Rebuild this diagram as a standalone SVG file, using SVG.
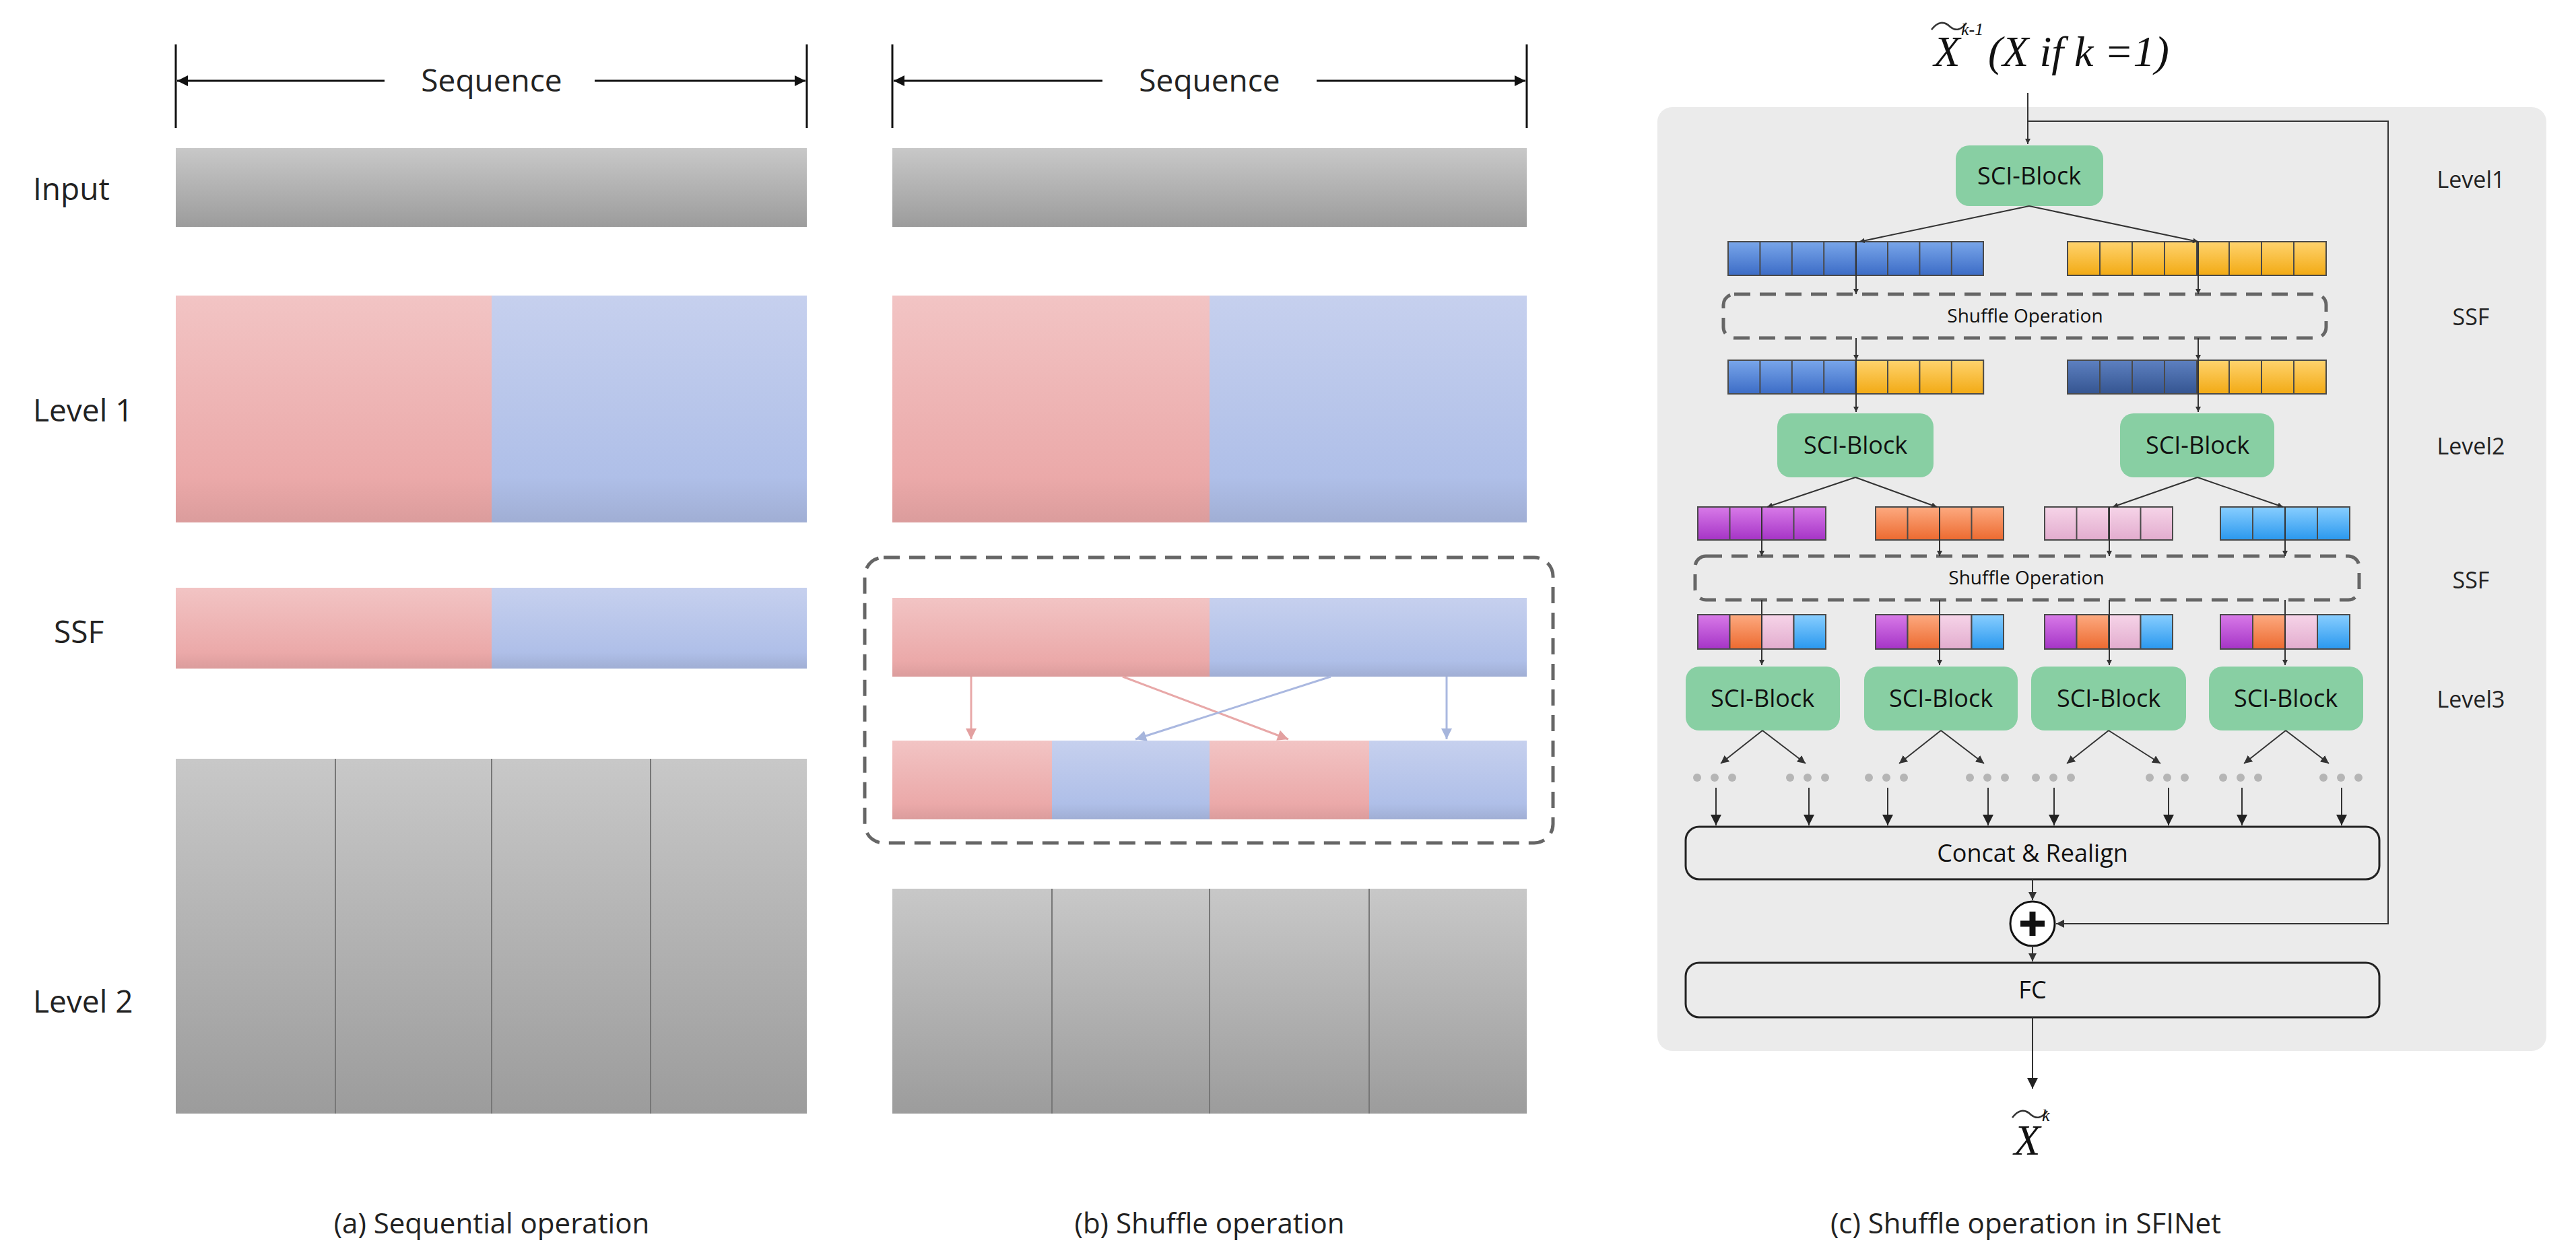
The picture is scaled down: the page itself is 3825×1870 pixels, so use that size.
<svg xmlns="http://www.w3.org/2000/svg" width="3825" height="1870" viewBox="0 0 3825 1870">
<defs>
<linearGradient id="gGray" x1="0" y1="0" x2="0" y2="1"><stop offset="0" stop-color="#c8c8c8"/><stop offset="1" stop-color="#9c9c9c"/></linearGradient>
<linearGradient id="gPink" x1="0" y1="0" x2="0" y2="1"><stop offset="0" stop-color="#f2c4c4"/><stop offset="0.8" stop-color="#eba9a9"/><stop offset="1" stop-color="#db9c9c"/></linearGradient>
<linearGradient id="gBlue" x1="0" y1="0" x2="0" y2="1"><stop offset="0" stop-color="#c6d0ee"/><stop offset="0.8" stop-color="#afbfe8"/><stop offset="1" stop-color="#a0aed4"/></linearGradient>
<linearGradient id="cBlue" x1="0" y1="0" x2="0" y2="1"><stop offset="0" stop-color="#79a6ea"/><stop offset="1" stop-color="#3c6cc6"/></linearGradient>
<linearGradient id="cDBlue" x1="0" y1="0" x2="0" y2="1"><stop offset="0" stop-color="#5d80c0"/><stop offset="1" stop-color="#355591"/></linearGradient>
<linearGradient id="cYel" x1="0" y1="0" x2="0" y2="1"><stop offset="0" stop-color="#ffd36e"/><stop offset="1" stop-color="#f2aa14"/></linearGradient>
<linearGradient id="cPur" x1="0" y1="0" x2="0" y2="1"><stop offset="0" stop-color="#d87ae8"/><stop offset="1" stop-color="#a534c6"/></linearGradient>
<linearGradient id="cOra" x1="0" y1="0" x2="0" y2="1"><stop offset="0" stop-color="#fdaa80"/><stop offset="1" stop-color="#ec6a30"/></linearGradient>
<linearGradient id="cPnk" x1="0" y1="0" x2="0" y2="1"><stop offset="0" stop-color="#f6d4e8"/><stop offset="1" stop-color="#e2acce"/></linearGradient>
<linearGradient id="cLB" x1="0" y1="0" x2="0" y2="1"><stop offset="0" stop-color="#88ceff"/><stop offset="1" stop-color="#2a98ee"/></linearGradient>
<marker id="ah" viewBox="0 0 10 10" refX="10" refY="5" markerWidth="8" markerHeight="8" orient="auto" markerUnits="userSpaceOnUse"><path d="M0,0 L10,5 L0,10 z" fill="#333"/></marker>
<marker id="ahs" viewBox="0 0 10 10" refX="10" refY="5" markerWidth="12" markerHeight="12" orient="auto" markerUnits="userSpaceOnUse"><path d="M0,0 L10,5 L0,10 z" fill="#333"/></marker>
<marker id="ahb" viewBox="0 0 10 10" refX="10" refY="5" markerWidth="18" markerHeight="16" orient="auto" markerUnits="userSpaceOnUse"><path d="M0,0 L10,5 L0,10 z" fill="#222"/></marker>
<marker id="ahP" viewBox="0 0 10 10" refX="10" refY="5" markerWidth="22" markerHeight="16" orient="auto" markerUnits="userSpaceOnUse"><path d="M0,0 L10,5 L0,10 z" fill="#e3a0a0"/></marker>
<marker id="ahB" viewBox="0 0 10 10" refX="10" refY="5" markerWidth="22" markerHeight="16" orient="auto" markerUnits="userSpaceOnUse"><path d="M0,0 L10,5 L0,10 z" fill="#a6b5dc"/></marker>
<marker id="seqA" viewBox="0 0 10 10" refX="10" refY="5" markerWidth="22" markerHeight="16" orient="auto" markerUnits="userSpaceOnUse"><path d="M0,0 L10,5 L0,10 z" fill="#111"/></marker>
</defs>
<style>
.lbl{font-family:"Open Sans","Noto Sans",sans-serif;font-size:46px;fill:#222;}
.cap{font-family:"Open Sans","Noto Sans",sans-serif;font-size:42px;fill:#222;text-anchor:middle;}
.lv{font-family:"Open Sans","Noto Sans",sans-serif;font-size:34px;fill:#222;text-anchor:middle;}
.sci{font-family:"Open Sans","Noto Sans",sans-serif;font-size:36px;fill:#111;text-anchor:middle;}
.sh{font-family:"Open Sans","Noto Sans",sans-serif;font-size:28px;fill:#111;text-anchor:middle;}
.mth{font-family:"Liberation Serif",serif;font-style:italic;fill:#111;}
.blk{fill:#88cfa3;}
.cell{stroke:#4a4a4a;stroke-width:2;}
.dash{fill:none;stroke:#666;stroke-width:5;stroke-dasharray:24 14;}
.ln{stroke:#333;stroke-width:2;fill:none;}
.dv{stroke:#777;stroke-width:2;}
.dot{fill:#b5b5b5;}
</style>

<g id="panel-a">
<path d="M261,66 V190 M1198,66 V190" stroke="#111" stroke-width="3"/>
<path d="M571,120 H263" stroke="#111" stroke-width="3" marker-end="url(#seqA)"/>
<path d="M883,120 H1196" stroke="#111" stroke-width="3" marker-end="url(#seqA)"/>
<text class="lbl" x="730" y="136" text-anchor="middle">Sequence</text>
<text class="lbl" x="49" y="297">Input</text>
<text class="lbl" x="49" y="626">Level 1</text>
<text class="lbl" x="80" y="955">SSF</text>
<text class="lbl" x="49" y="1504">Level 2</text>
<rect x="261" y="220" width="937" height="117" fill="url(#gGray)"/>
<rect x="261" y="439" width="469" height="337" fill="url(#gPink)"/>
<rect x="730" y="439" width="468" height="337" fill="url(#gBlue)"/>
<rect x="261" y="873" width="469" height="120" fill="url(#gPink)"/>
<rect x="730" y="873" width="468" height="120" fill="url(#gBlue)"/>
<rect x="261" y="1127" width="937" height="527" fill="url(#gGray)"/>
<path class="dv" d="M498,1127 V1654 M730,1127 V1654 M966,1127 V1654"/>
<text class="cap" x="730" y="1832">(a) Sequential operation</text>
</g>

<g id="panel-b">
<path d="M1325,66 V190 M2267,66 V190" stroke="#111" stroke-width="3"/>
<path d="M1637,120 H1327" stroke="#111" stroke-width="3" marker-end="url(#seqA)"/>
<path d="M1955,120 H2265" stroke="#111" stroke-width="3" marker-end="url(#seqA)"/>
<text class="lbl" x="1796" y="136" text-anchor="middle">Sequence</text>
<rect x="1325" y="220" width="942" height="117" fill="url(#gGray)"/>
<rect x="1325" y="439" width="471" height="337" fill="url(#gPink)"/>
<rect x="1796" y="439" width="471" height="337" fill="url(#gBlue)"/>
<rect x="1284" y="828" width="1022" height="424" rx="28" class="dash" stroke-width="4"/>
<rect x="1325" y="888" width="471" height="117" fill="url(#gPink)"/>
<rect x="1796" y="888" width="471" height="117" fill="url(#gBlue)"/>
<rect x="1325" y="1100" width="237" height="117" fill="url(#gPink)"/>
<rect x="1562" y="1100" width="234" height="117" fill="url(#gBlue)"/>
<rect x="1796" y="1100" width="237" height="117" fill="url(#gPink)"/>
<rect x="2033" y="1100" width="234" height="117" fill="url(#gBlue)"/>
<rect x="1325" y="1320" width="942" height="334" fill="url(#gGray)"/>
<path class="dv" d="M1562,1320 V1654 M1796,1320 V1654 M2033,1320 V1654"/>
<text class="cap" x="1796" y="1832">(b) Shuffle operation</text>
</g>
<g id="shuffle-arrows-b">
<path d="M1442,1005 V1098" stroke="#e8a8a8" stroke-width="3" marker-end="url(#ahP)"/>
<path d="M1667,1005 L1913,1098" stroke="#e8a8a8" stroke-width="3" marker-end="url(#ahP)"/>
<path d="M1976,1005 L1686,1098" stroke="#aab8e0" stroke-width="3" marker-end="url(#ahB)"/>
<path d="M2148,1005 V1098" stroke="#aab8e0" stroke-width="3" marker-end="url(#ahB)"/>
</g>

<g id="panel-c-bg">
<rect x="2461" y="159" width="1320" height="1402" rx="22" fill="#ebebeb"/>
</g>
<g id="input-label">
<text class="mth" x="2891" y="98" font-size="64" text-anchor="middle">X</text>
<path d="M2868,44 Q2882,26 2896,40 Q2908,50 2920,34" fill="none" stroke="#333" stroke-width="2.5"/>
<text class="mth" x="2912" y="52" font-size="26">k-1</text>
<text class="mth" x="2952" y="98" font-size="64">(X if k =1)</text>
</g>
<g id="levels">
<text class="lv" x="3669" y="279">Level1</text>
<text class="lv" x="3669" y="483">SSF</text>
<text class="lv" x="3669" y="675">Level2</text>
<text class="lv" x="3669" y="874">SSF</text>
<text class="lv" x="3669" y="1051">Level3</text>
</g>

<g id="sci-1"><rect class="blk" x="2904" y="216" width="219" height="90" rx="20"/><text class="sci" x="3013" y="274">SCI-Block</text></g>
<g id="row1">
<rect class="cell" x="2566" y="359" width="379" height="50" fill="url(#cBlue)"/>
<path class="cell" d="M2613.4,359V409M2660.8,359V409M2708.2,359V409M2755.6,359V409M2803,359V409M2850.4,359V409M2897.8,359V409"/>
<rect class="cell" x="3070" y="359" width="384" height="50" fill="url(#cYel)"/>
<path class="cell" d="M3118,359V409M3166,359V409M3214,359V409M3262,359V409M3310,359V409M3358,359V409M3406,359V409"/>
</g>
<g id="shuffle-1"><rect class="dash" x="2559" y="437" width="895" height="65" rx="16"/><text class="sh" x="3007" y="479">Shuffle Operation</text></g>
<g id="row2">
<rect class="cell" x="2566" y="535" width="189.6" height="50" fill="url(#cBlue)"/>
<rect class="cell" x="2755.6" y="535" width="189.6" height="50" fill="url(#cYel)"/>
<path class="cell" d="M2613.4,535V585M2660.8,535V585M2708.2,535V585M2803,535V585M2850.4,535V585M2897.8,535V585"/>
<rect class="cell" x="3070" y="535" width="192" height="50" fill="url(#cDBlue)"/>
<rect class="cell" x="3262" y="535" width="192" height="50" fill="url(#cYel)"/>
<path class="cell" d="M3118,535V585M3166,535V585M3214,535V585M3310,535V585M3358,535V585M3406,535V585"/>
</g>
<g id="sci-2a"><rect class="blk" x="2639" y="614" width="232" height="95" rx="20"/><text class="sci" x="2755" y="674">SCI-Block</text></g>
<g id="sci-2b"><rect class="blk" x="3148" y="614" width="229" height="95" rx="20"/><text class="sci" x="3263" y="674">SCI-Block</text></g>
<g id="row3">
<rect class="cell" x="2521" y="753" width="190" height="49" fill="url(#cPur)"/>
<rect class="cell" x="2785" y="753" width="190" height="49" fill="url(#cOra)"/>
<rect class="cell" x="3036" y="753" width="190" height="49" fill="url(#cPnk)"/>
<rect class="cell" x="3297" y="753" width="192" height="49" fill="url(#cLB)"/>
<path class="cell" d="M2568.5,753V802M2616,753V802M2663.5,753V802M2832.5,753V802M2880,753V802M2927.5,753V802M3083.5,753V802M3131,753V802M3178.5,753V802M3345,753V802M3393,753V802M3441,753V802"/>
</g>
<g id="shuffle-2"><rect class="dash" x="2517" y="826" width="986" height="65" rx="16"/><text class="sh" x="3009" y="868">Shuffle Operation</text></g>
<g id="row4">
<rect class="cell" x="2521" y="913" width="47.5" height="51" fill="url(#cPur)"/><rect class="cell" x="2568.5" y="913" width="47.5" height="51" fill="url(#cOra)"/><rect class="cell" x="2616" y="913" width="47.5" height="51" fill="url(#cPnk)"/><rect class="cell" x="2663.5" y="913" width="47.5" height="51" fill="url(#cLB)"/>
<rect class="cell" x="2785" y="913" width="47.5" height="51" fill="url(#cPur)"/><rect class="cell" x="2832.5" y="913" width="47.5" height="51" fill="url(#cOra)"/><rect class="cell" x="2880" y="913" width="47.5" height="51" fill="url(#cPnk)"/><rect class="cell" x="2927.5" y="913" width="47.5" height="51" fill="url(#cLB)"/>
<rect class="cell" x="3036" y="913" width="47.5" height="51" fill="url(#cPur)"/><rect class="cell" x="3083.5" y="913" width="47.5" height="51" fill="url(#cOra)"/><rect class="cell" x="3131" y="913" width="47.5" height="51" fill="url(#cPnk)"/><rect class="cell" x="3178.5" y="913" width="47.5" height="51" fill="url(#cLB)"/>
<rect class="cell" x="3297" y="913" width="48" height="51" fill="url(#cPur)"/><rect class="cell" x="3345" y="913" width="48" height="51" fill="url(#cOra)"/><rect class="cell" x="3393" y="913" width="48" height="51" fill="url(#cPnk)"/><rect class="cell" x="3441" y="913" width="48" height="51" fill="url(#cLB)"/>
</g>
<g id="sci-3a"><rect class="blk" x="2503" y="990" width="229" height="95" rx="20"/><text class="sci" x="2617" y="1050">SCI-Block</text></g>
<g id="sci-3b"><rect class="blk" x="2768" y="990" width="228" height="95" rx="20"/><text class="sci" x="2882" y="1050">SCI-Block</text></g>
<g id="sci-3c"><rect class="blk" x="3016" y="990" width="230" height="95" rx="20"/><text class="sci" x="3131" y="1050">SCI-Block</text></g>
<g id="sci-3d"><rect class="blk" x="3280" y="990" width="229" height="95" rx="20"/><text class="sci" x="3394" y="1050">SCI-Block</text></g>
<g id="dots">
<circle class="dot" cx="2520" cy="1155" r="6"/><circle class="dot" cx="2546" cy="1155" r="6"/><circle class="dot" cx="2572" cy="1155" r="6"/>
<circle class="dot" cx="2658" cy="1155" r="6"/><circle class="dot" cx="2684" cy="1155" r="6"/><circle class="dot" cx="2710" cy="1155" r="6"/>
<circle class="dot" cx="2775" cy="1155" r="6"/><circle class="dot" cx="2801" cy="1155" r="6"/><circle class="dot" cx="2827" cy="1155" r="6"/>
<circle class="dot" cx="2925" cy="1155" r="6"/><circle class="dot" cx="2951" cy="1155" r="6"/><circle class="dot" cx="2977" cy="1155" r="6"/>
<circle class="dot" cx="3023" cy="1155" r="6"/><circle class="dot" cx="3049" cy="1155" r="6"/><circle class="dot" cx="3075" cy="1155" r="6"/>
<circle class="dot" cx="3192" cy="1155" r="6"/><circle class="dot" cx="3218" cy="1155" r="6"/><circle class="dot" cx="3244" cy="1155" r="6"/>
<circle class="dot" cx="3301" cy="1155" r="6"/><circle class="dot" cx="3327" cy="1155" r="6"/><circle class="dot" cx="3353" cy="1155" r="6"/>
<circle class="dot" cx="3450" cy="1155" r="6"/><circle class="dot" cx="3476" cy="1155" r="6"/><circle class="dot" cx="3502" cy="1155" r="6"/>
</g>
<g id="concat"><rect x="2503" y="1228" width="1030" height="78" rx="20" fill="#ebebeb" stroke="#222" stroke-width="3"/><text class="sci" x="3018" y="1280">Concat &amp; Realign</text></g>
<g id="plus"><circle cx="3018" cy="1372" r="33" fill="#fff" stroke="#111" stroke-width="3"/><path d="M3018,1354 V1390 M3000,1372 H3036" stroke="#111" stroke-width="9"/></g>
<g id="fc"><rect x="2503" y="1430" width="1030" height="81" rx="20" fill="#ebebeb" stroke="#222" stroke-width="3"/><text class="sci" x="3018" y="1483">FC</text></g>
<g id="output-label">
<text class="mth" x="3010" y="1715" font-size="64" text-anchor="middle">X</text>
<path d="M2988,1660 Q3002,1642 3016,1656 Q3028,1666 3040,1650" fill="none" stroke="#333" stroke-width="2.5"/>
<text class="mth" x="3032" y="1665" font-size="26">k</text>
</g>

<g id="connectors">
<path class="ln" d="M3011,138 V214" marker-end="url(#ah)"/>
<path class="ln" d="M3011,180 H3546 V1372 H3053" marker-end="url(#ahs)"/>
<path class="ln" d="M3013,306 L2761,359" marker-end="url(#ah)"/>
<path class="ln" d="M3013,306 L3264,359" marker-end="url(#ah)"/>
<path class="ln" d="M2756,359 V437" marker-end="url(#ah)"/>
<path class="ln" d="M3264,359 V437" marker-end="url(#ah)"/>
<path class="ln" d="M2756,502 V535" marker-end="url(#ah)"/>
<path class="ln" d="M3264,502 V535" marker-end="url(#ah)"/>
<path class="ln" d="M2756,535 V612" marker-end="url(#ah)"/>
<path class="ln" d="M3264,535 V612" marker-end="url(#ah)"/>
<path class="ln" d="M2755,709 L2624,753" marker-end="url(#ah)"/>
<path class="ln" d="M2755,709 L2876,753" marker-end="url(#ah)"/>
<path class="ln" d="M3263,709 L3137,753" marker-end="url(#ah)"/>
<path class="ln" d="M3263,709 L3390,753" marker-end="url(#ah)"/>
<path class="ln" d="M2616,753 V826" marker-end="url(#ah)"/>
<path class="ln" d="M2880,753 V826" marker-end="url(#ah)"/>
<path class="ln" d="M3132,753 V826" marker-end="url(#ah)"/>
<path class="ln" d="M3393,753 V826" marker-end="url(#ah)"/>
<path class="ln" d="M2616,891 V988" marker-end="url(#ah)"/>
<path class="ln" d="M2880,891 V988" marker-end="url(#ah)"/>
<path class="ln" d="M3132,891 V988" marker-end="url(#ah)"/>
<path class="ln" d="M3393,891 V988" marker-end="url(#ah)"/>
<path class="ln" d="M2617,1085 L2555,1134" marker-end="url(#ahs)"/>
<path class="ln" d="M2617,1085 L2681,1134" marker-end="url(#ahs)"/>
<path class="ln" d="M2882,1085 L2820,1134" marker-end="url(#ahs)"/>
<path class="ln" d="M2882,1085 L2946,1134" marker-end="url(#ahs)"/>
<path class="ln" d="M3131,1085 L3069,1134" marker-end="url(#ahs)"/>
<path class="ln" d="M3131,1085 L3208,1134" marker-end="url(#ahs)"/>
<path class="ln" d="M3394,1085 L3332,1134" marker-end="url(#ahs)"/>
<path class="ln" d="M3394,1085 L3458,1134" marker-end="url(#ahs)"/>
<path class="ln" stroke-width="3" d="M2548,1170 V1226" marker-end="url(#ahb)"/>
<path class="ln" stroke-width="3" d="M2686,1170 V1226" marker-end="url(#ahb)"/>
<path class="ln" stroke-width="3" d="M2803,1170 V1226" marker-end="url(#ahb)"/>
<path class="ln" stroke-width="3" d="M2952,1170 V1226" marker-end="url(#ahb)"/>
<path class="ln" stroke-width="3" d="M3050,1170 V1226" marker-end="url(#ahb)"/>
<path class="ln" stroke-width="3" d="M3220,1170 V1226" marker-end="url(#ahb)"/>
<path class="ln" stroke-width="3" d="M3329,1170 V1226" marker-end="url(#ahb)"/>
<path class="ln" stroke-width="3" d="M3477,1170 V1226" marker-end="url(#ahb)"/>
<path class="ln" stroke-width="3" d="M3018,1306 V1337" marker-end="url(#ahs)"/>
<path class="ln" stroke-width="3" d="M3018,1405 V1428" marker-end="url(#ahs)"/>
<path class="ln" stroke-width="3" d="M3018,1511 V1617" marker-end="url(#ahb)"/>
</g>
<text class="cap" x="3008" y="1832">(c) Shuffle operation in SFINet</text>
</svg>
